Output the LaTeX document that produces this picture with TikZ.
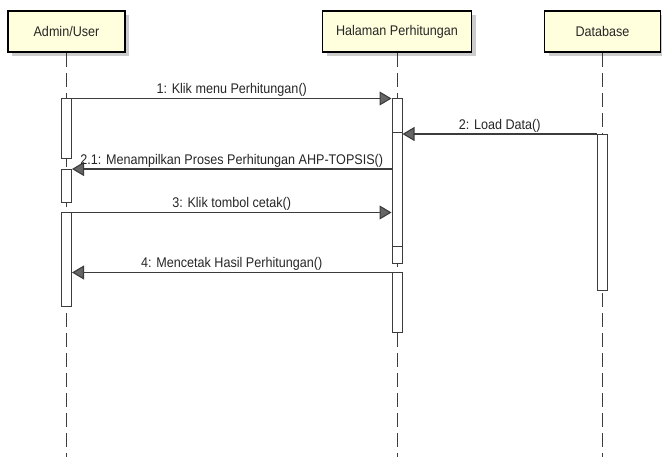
\documentclass[tikz,border=0pt]{standalone}
\usepackage{fontspec}
\setmainfont{Liberation Sans}[FakeStretch=0.9]
\usepackage{xcolor}
\usepackage{tikz}
\usetikzlibrary{arrows.meta,positioning,shadows,calc}

\definecolor{boxfill}{RGB}{255,255,222}
\definecolor{linegray}{RGB}{60,60,60}

\begin{document}
\begin{tikzpicture}[
  x=1pt, y=-1pt,
  actor/.style={draw=black, line width=1.8pt, fill=boxfill, minimum height=41pt,
    inner sep=0pt, text=black!85, font=\fontsize{14}{16}\selectfont,
    drop shadow={shadow xshift=4pt, shadow yshift=-4pt, fill=black!20, opacity=1}},
  life/.style={draw=linegray, line width=1pt, dash pattern=on 14pt off 6pt},
  bar/.style={draw=linegray, fill=white, line width=1pt, minimum width=10pt,
    inner sep=0pt, anchor=north},
  lab/.style={font=\fontsize{14}{16}\selectfont, text=black!85, inner sep=1.5pt, above},
  msg/.style={-{Triangle[length=12pt, width=14pt, fill=black!60]}, draw=linegray, line width=1.1pt}
]
\useasboundingbox (0,0) rectangle (662,457);
\coordinate (bottom) at (0,457);
% participants
\node[actor, minimum width=117pt] (admin) at (66.5,31.5) {Admin/User};
\node[actor, minimum width=149pt] (hal) at (397,31.5) {Halaman Perhitungan};
\node[actor, minimum width=116pt] (db) at (602.5,31.5) {Database};
\foreach \p in {admin,hal,db}
  \draw[life] (\p.south) -- (\p.south |- bottom);
% activations
\node[bar, minimum height=59.5pt] (a1) at (66.5,98.5) {};
\node[bar, minimum height=33pt] (a2) at (66.5,169) {};
\node[bar, minimum height=93.5pt] (a3) at (66.5,212.5) {};
\node[bar, minimum height=164.5pt] (h1) at (397,98.5) {};
\node[bar, minimum height=114pt] (h2) at (397,132) {};
\node[bar, minimum height=60pt] (h3) at (397,272.5) {};
\node[bar, minimum height=156pt] (d1) at (602.5,134) {};
% messages
\draw[msg] (a1.north east) -- node[lab] {1: Klik menu Perhitungan()} (h1.north west);
\draw[msg] (d1.north west) -- node[lab] {2: Load Data()} (d1.north west -| h2.east);
\draw[msg] (h1.west |- a2.north) -- node[lab] {2.1: Menampilkan Proses Perhitungan AHP-TOPSIS()} (a2.north east);
\draw[msg] (a3.north east) -- node[lab] {3: Klik tombol cetak()} (a3.north east -| h1.west);
\draw[msg] (h3.north west) -- node[lab] {4: Mencetak Hasil Perhitungan()} (h3.north west -| a3.east);
\end{tikzpicture}
\end{document}
